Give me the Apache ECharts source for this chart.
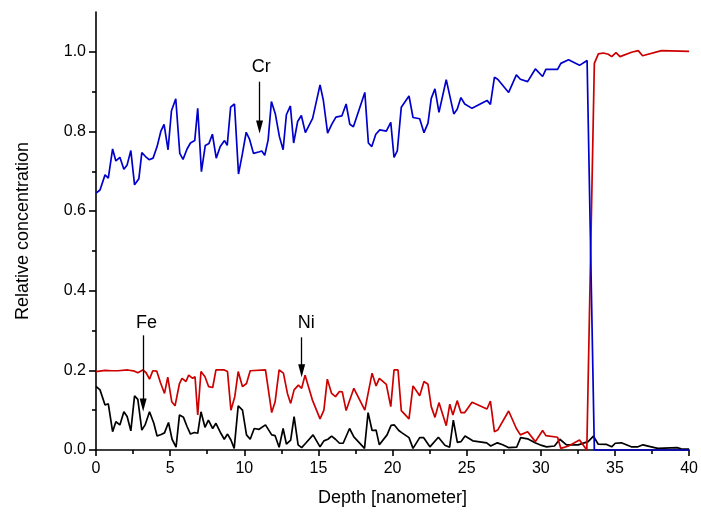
<!DOCTYPE html>
<html>
<head>
<meta charset="utf-8">
<script src="https://cdn.jsdelivr.net/npm/echarts@6/dist/echarts.min.js"></script>
<style>html,body{margin:0;padding:0;background:#fff}#c{width:701px;height:515px}</style>
</head>
<body>
<div id="c"></div>
<script>
// Cr (blue)
const crDepth = [0.00,0.27,0.61,0.83,1.12,1.34,1.61,1.88,2.10,2.35,2.60,2.89,3.09,3.34,3.58,3.85,4.12,4.37,4.59,4.86,5.09,5.38,5.65,5.87,6.14,6.37,6.66,6.86,7.11,7.37,7.62,7.85,8.11,8.38,8.67,8.85,9.08,9.34,9.61,9.86,10.13,10.35,10.62,11.03,11.18,11.38,11.61,11.83,12.10,12.37,12.62,12.84,13.11,13.33,13.60,13.85,14.12,14.61,15.11,15.33,15.62,15.89,16.18,16.58,16.87,17.12,17.36,18.13,18.37,18.60,18.87,19.14,19.58,19.88,20.10,20.32,20.59,21.11,21.38,21.83,22.12,22.39,22.61,22.86,23.13,23.62,24.13,24.36,24.61,24.87,25.36,26.37,26.60,26.87,27.09,27.83,28.35,28.62,29.11,29.63,30.12,30.34,31.13,31.35,31.87,32.61,33.12,33.61,40.00];
const crValue = [0.645,0.653,0.691,0.683,0.756,0.726,0.735,0.705,0.716,0.752,0.666,0.681,0.747,0.737,0.729,0.733,0.762,0.800,0.818,0.754,0.852,0.882,0.745,0.730,0.756,0.771,0.777,0.858,0.699,0.765,0.770,0.793,0.733,0.762,0.777,0.765,0.861,0.869,0.693,0.741,0.798,0.781,0.745,0.749,0.751,0.740,0.779,0.875,0.843,0.787,0.754,0.842,0.864,0.771,0.825,0.840,0.797,0.833,0.917,0.879,0.796,0.817,0.836,0.839,0.869,0.818,0.812,0.898,0.771,0.762,0.793,0.804,0.801,0.823,0.735,0.751,0.861,0.889,0.835,0.832,0.797,0.821,0.883,0.907,0.848,0.930,0.844,0.856,0.885,0.869,0.858,0.878,0.868,0.936,0.931,0.898,0.942,0.931,0.925,0.957,0.938,0.956,0.956,0.971,0.980,0.966,0.978,0.000,0.000];

// Ni (red)
const niDepth = [0.00,0.61,1.08,1.48,2.15,2.60,2.82,3.16,3.38,3.61,3.83,4.10,4.35,4.62,4.84,5.11,5.33,5.63,5.80,6.07,6.25,6.52,6.68,6.86,7.08,7.35,7.60,7.87,8.09,8.65,8.87,9.10,9.36,9.59,9.88,10.15,10.40,11.43,11.85,12.08,12.35,12.64,12.91,13.13,13.36,13.65,13.87,14.10,14.59,15.11,15.37,15.60,15.89,16.15,16.42,16.61,16.87,17.39,18.13,18.62,18.89,19.11,19.58,19.88,20.10,20.37,20.59,21.11,21.38,21.83,22.12,22.39,22.61,22.86,23.13,23.62,23.86,24.07,24.36,24.61,24.87,25.36,26.37,26.60,26.87,27.09,27.83,28.35,28.62,29.11,29.63,30.12,30.34,31.13,31.35,31.87,32.61,33.10,33.61,33.88,34.22,34.55,34.78,35.07,35.34,36.12,36.57,36.86,38.14,40.00];
const niValue = [0.197,0.200,0.199,0.199,0.201,0.198,0.194,0.201,0.194,0.178,0.199,0.198,0.169,0.142,0.183,0.121,0.111,0.167,0.180,0.172,0.188,0.180,0.184,0.088,0.197,0.184,0.159,0.157,0.201,0.201,0.197,0.100,0.134,0.197,0.159,0.167,0.199,0.201,0.094,0.121,0.201,0.193,0.142,0.117,0.151,0.163,0.155,0.188,0.126,0.078,0.100,0.178,0.142,0.134,0.147,0.146,0.099,0.155,0.100,0.193,0.161,0.180,0.165,0.109,0.201,0.201,0.099,0.078,0.161,0.136,0.172,0.165,0.109,0.082,0.119,0.061,0.115,0.088,0.124,0.094,0.094,0.120,0.103,0.123,0.046,0.050,0.098,0.054,0.038,0.046,0.021,0.049,0.036,0.032,0.004,0.010,0.025,0.000,0.971,0.995,0.997,0.994,0.988,0.998,0.988,0.999,1.003,0.990,1.003,1.001];

// Fe (black)
const feDepth = [0.00,0.27,0.61,0.83,1.12,1.34,1.61,1.88,2.10,2.35,2.60,2.82,3.09,3.31,3.61,3.90,4.12,4.39,4.62,4.89,5.13,5.40,5.63,5.90,6.14,6.37,6.64,6.86,7.08,7.35,7.58,7.87,8.09,8.42,8.65,8.87,9.10,9.32,9.59,9.88,10.15,10.40,10.67,11.00,11.43,11.56,11.85,12.08,12.35,12.62,12.84,13.13,13.36,13.63,13.87,14.14,14.64,15.11,15.37,15.64,15.89,16.15,16.42,16.67,17.10,17.39,18.11,18.35,18.62,18.89,19.11,19.63,19.90,20.12,20.42,20.64,21.11,21.38,21.83,22.10,22.52,23.09,23.53,23.85,24.10,24.37,24.61,24.89,25.41,26.35,26.62,27.07,27.43,27.81,28.37,28.64,29.11,29.61,29.94,30.39,30.92,31.28,31.73,32.52,33.19,33.55,33.86,34.44,34.78,35.02,35.43,36.10,36.55,36.89,37.45,37.89,39.19,39.46,40.00];
const feValue = [0.160,0.151,0.113,0.116,0.046,0.071,0.063,0.096,0.084,0.048,0.136,0.127,0.050,0.063,0.096,0.067,0.035,0.039,0.043,0.069,0.027,0.007,0.088,0.082,0.059,0.040,0.044,0.042,0.096,0.057,0.075,0.054,0.067,0.042,0.027,0.040,0.025,0.004,0.111,0.100,0.038,0.027,0.054,0.052,0.063,0.067,0.038,0.036,0.007,0.054,0.015,0.025,0.084,0.013,0.006,0.017,0.038,0.008,0.023,0.027,0.035,0.027,0.017,0.017,0.054,0.033,0.004,0.094,0.049,0.050,0.013,0.038,0.062,0.063,0.049,0.043,0.031,0.004,0.031,0.031,0.008,0.032,0.012,0.007,0.075,0.019,0.021,0.035,0.023,0.018,0.010,0.018,0.013,0.006,0.007,0.031,0.028,0.018,0.013,0.008,0.010,0.027,0.013,0.013,0.021,0.035,0.015,0.014,0.008,0.017,0.018,0.008,0.008,0.013,0.008,0.004,0.006,0.003,0.002];

// Axis ticks
const yMajorTicks = [0, 0.2, 0.4, 0.6, 0.8, 1.0];
const yMinorTicks = [0.1, 0.3, 0.5, 0.7, 0.9];

// Annotations: label text, label position, arrow start/end
const annNames = ['Cr', 'Fe', 'Ni'];
const annLabelPos = [[11.14, 0.963], [3.41, 0.318], [14.18, 0.318]];
const annArrowFrom = [[11.03, 0.925], [3.18, 0.288], [13.87, 0.283]];
const annArrowTo = [[11.03, 0.811], [3.18, 0.113], [13.87, 0.199]];

const FONT = "'Liberation Sans', Arial, Helvetica, sans-serif";
const zip = (xs, ys) => xs.map((x, i) => [x, ys[i]]);

const chart = echarts.init(document.getElementById('c'), null, {renderer: 'canvas'});
const yBase = {
  type: 'value', min: 0, max: 1.1, position: 'left',
  splitLine: {show: false}
};
chart.setOption({
  animation: false,
  backgroundColor: '#fff',
  grid: {left: 96, right: 10, top: 12, bottom: 65},
  xAxis: {
    type: 'value', min: 0, max: 40, interval: 5,
    axisLine: {show: true, onZero: false, lineStyle: {color: '#000', width: 1.6}},
    axisTick: {show: true, inside: false, length: 6, lineStyle: {color: '#000', width: 1.6}},
    minorTick: {show: true, splitNumber: 2, length: 4, lineStyle: {color: '#000', width: 1.6}},
    splitLine: {show: false},
    axisLabel: {color: '#000', fontSize: 16, fontFamily: FONT, margin: 11},
    name: 'Depth [nanometer]', nameLocation: 'middle', nameGap: 39,
    nameTextStyle: {color: '#000', fontSize: 18, fontFamily: FONT}
  },
  yAxis: [
    Object.assign({}, yBase, {
      axisLine: {show: true, onZero: false, lineStyle: {color: '#000', width: 1.6}},
      axisTick: {show: true, inside: false, length: 7, customValues: yMajorTicks, lineStyle: {color: '#000', width: 1.6}},
      axisLabel: {color: '#000', fontSize: 16, fontFamily: FONT, margin: 10,
        customValues: yMajorTicks, formatter: v => v.toFixed(1)},
      name: 'Relative concentration', nameLocation: 'middle', nameGap: 64,
      nameTextStyle: {color: '#000', fontSize: 18, fontFamily: FONT}
    }),
    Object.assign({}, yBase, {
      axisLine: {show: false},
      axisTick: {show: true, inside: false, length: 4, customValues: yMinorTicks, lineStyle: {color: '#000', width: 1.6}},
      axisLabel: {show: false}
    })
  ],
  series: [
    {name: 'Fe', type: 'line', data: zip(feDepth, feValue), showSymbol: false, symbol: 'none',
     clip: false, lineStyle: {color: '#000000', width: 1.7}, z: 3},
    {name: 'Ni', type: 'line', data: zip(niDepth, niValue), showSymbol: false, symbol: 'none',
     clip: false, lineStyle: {color: '#cc0000', width: 1.7}, z: 4},
    {name: 'Cr', type: 'line', data: zip(crDepth, crValue), showSymbol: false, symbol: 'none',
     clip: false, lineStyle: {color: '#0000cc', width: 1.7}, z: 5},
    {name: 'labels', type: 'scatter', symbolSize: 1, z: 6,
     itemStyle: {color: 'rgba(0,0,0,0)', opacity: 1},
     data: annNames.map((n, i) => ({name: n, value: annLabelPos[i]})),
     label: {show: true, position: 'inside', formatter: '{b}', color: '#000', opacity: 1,
       fontSize: 18, fontFamily: FONT},
     markLine: {
       silent: true, symbol: ['none', 'triangle'], symbolSize: [7, 13],
       lineStyle: {color: '#000', width: 1.3, type: 'solid', opacity: 1},
       itemStyle: {color: '#000', opacity: 1},
       label: {show: false},
       data: annNames.map((n, i) => [{coord: annArrowFrom[i]}, {coord: annArrowTo[i]}])
     }}
  ]
});
</script>
</body>
</html>
